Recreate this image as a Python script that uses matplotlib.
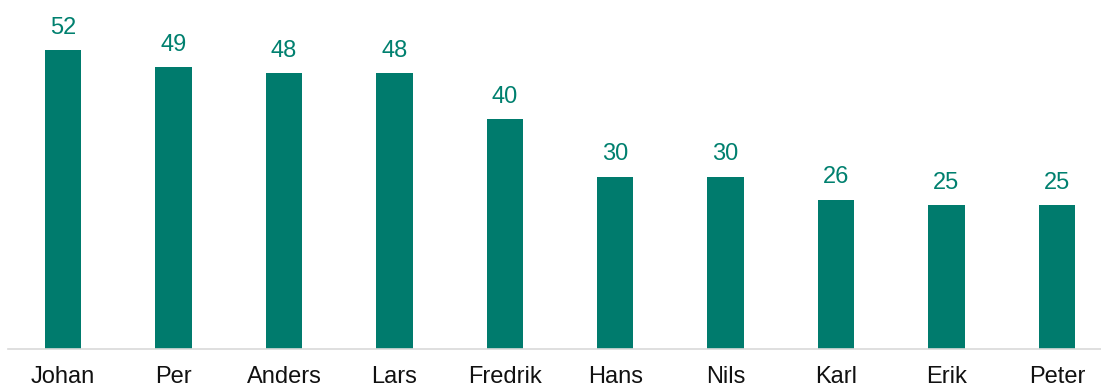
import matplotlib.pyplot as plt

names = ["Johan", "Per", "Anders", "Lars", "Fredrik", "Hans", "Nils", "Karl", "Erik", "Peter"]
counts = [52, 49, 48, 48, 40, 30, 30, 26, 25, 25]

bar_color = "#007B6D"
plt.rcParams["font.family"] = ["Liberation Sans", "DejaVu Sans"]

fig = plt.figure(figsize=(11.01, 3.88), dpi=100)
ax = fig.add_axes([8 / 1101, 39 / 388, 1 - 8 / 1101, 345 / 388])

x = range(len(names))
bars = ax.bar(x, counts, width=0.33, color=bar_color)

for b, v in zip(bars, counts):
    ax.annotate(str(v), (b.get_x() + b.get_width() / 2, v),
                xytext=(0, 8), textcoords="offset points",
                ha="center", va="bottom", fontsize=17, color="#00806F")

ax.set_xlim(-0.5, 9.4)
ax.set_ylim(0, 60)
ax.set_xticks(list(x))
ax.set_xticklabels(names, fontsize=17, color="#111111")
ax.tick_params(axis="x", length=0, pad=12)
ax.set_yticks([])
for s in ["top", "right", "left"]:
    ax.spines[s].set_visible(False)
ax.spines["bottom"].set_color("#D9D9D9")
ax.spines["bottom"].set_linewidth(1.2)

fig.savefig("out.png", dpi=100)
